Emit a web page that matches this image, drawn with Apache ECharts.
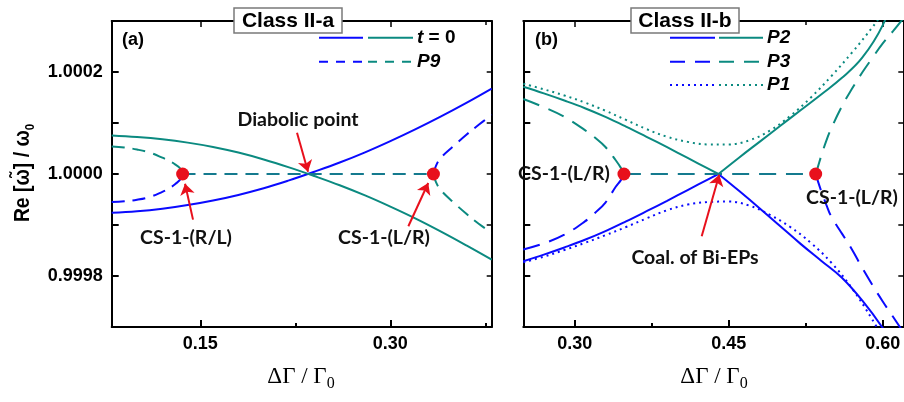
<!DOCTYPE html>
<html>
<head>
<meta charset="utf-8">
<script src="https://cdn.jsdelivr.net/npm/echarts@6/dist/echarts.min.js"></script>
<style>
html,body{margin:0;padding:0;background:#fff;}
#c{width:904px;height:402px;}
</style>
</head>
<body>
<div id="c"></div>
<script>
// ---------- Panel (a): Class II-a ----------
const aX      = [0.08,0.10,0.12,0.14,0.16,0.18,0.20,0.22,0.24,0.26,0.28,0.30,0.32,0.34,0.36,0.38];
const t0Blue  = [0.999924,0.999927,0.999932,0.999939,0.999948,0.999959,0.999972,0.9999875,1.0000045,1.0000225,1.0000425,1.0000645,1.000088,1.000113,1.0001395,1.0001675];
const t0Teal  = [1.0000755,1.0000725,1.000068,1.0000615,1.000053,1.000042,1.0000285,1.000013,0.999996,0.999978,0.999958,0.999936,0.9999125,0.999887,0.99986,0.999832];
const p9XL    = [0.08,0.09,0.10,0.11,0.12,0.125,0.13,0.134,0.136];
const p9BlueL = [0.999945,0.9999465,0.9999495,0.999955,0.999965,0.999971,0.999980,0.999989,1.0];
const p9TealL = [1.000054,1.000052,1.000048,1.000042,1.000032,1.000026,1.000019,1.000011,1.0];
const p9XR    = [0.334,0.336,0.34,0.35,0.36,0.37,0.38];
const p9BlueR = [1.0,1.000016,1.000032,1.000055,1.000077,1.000097,1.000116];
const p9TealR = [1.0,0.999984,0.999968,0.999944,0.999922,0.999902,0.999885];
const p9FlatX = [0.136,0.334];
const csAX    = [0.136,0.334];

// ---------- Panel (b): Class II-b ----------
const bXL     = [0.25,0.27,0.29,0.31,0.33,0.35,0.37,0.39,0.41,0.43,0.44];
const p2TealL = [1.000171,1.000158,1.000144,1.000129,1.000112,1.000093,1.000073,1.0000525,1.0000315,1.0000105,1.0];
const p2BlueL = [0.999829,0.999842,0.999856,0.999871,0.999888,0.999907,0.999927,0.9999475,0.9999685,0.9999895,1.0];
const bXR     = [0.44,0.46,0.48,0.50,0.52,0.54,0.56,0.58,0.60,0.62];
const p2TealR = [1.0,1.000032,1.000063,1.000094,1.000125,1.000156,1.000188,1.000228,1.000292,1.000395];
const p2BlueR = [1.0,0.999967,0.999933,0.999898,0.999863,0.99983,0.999797,0.999752,0.999698,0.999635];
const p1X     = [0.25,0.27,0.29,0.31,0.33,0.35,0.37,0.39,0.41,0.43,0.45,0.47,0.49,0.51,0.53,0.55,0.57,0.59,0.61];
const p1Teal  = [1.000177,1.000166,1.000154,1.00014,1.000124,1.000106,1.000088,1.000073,1.000063,1.000058,1.000058,1.000066,1.000085,1.000114,1.00015,1.000192,1.000238,1.000288,1.000344];
const p1Blue  = [0.999827,0.999838,0.999851,0.999865,0.99988,0.999896,0.999913,0.999929,0.99994,0.999945,0.999946,0.999938,0.99992,0.999896,0.999865,0.999826,0.999776,0.999714,0.999645];
const p3XL    = [0.25,0.27,0.29,0.31,0.32,0.33,0.34,0.345,0.348];
const p3TealL = [1.000147,1.000131,1.000112,1.000086,1.000071,1.000053,1.000027,1.000012,1.0];
const p3BlueL = [0.999852,0.999864,0.999881,0.999907,0.999924,0.999944,0.999975,0.999988,1.0];
const p3XR    = [0.5347,0.537,0.54,0.545,0.55,0.56,0.57,0.58,0.59,0.60,0.61,0.62];
const p3TealR = [1.0,1.000015,1.000035,1.000065,1.00009,1.000132,1.000167,1.000199,1.000228,1.000256,1.00028,1.000305];
const p3BlueR = [1.0,0.999985,0.999967,0.99994,0.999916,0.999884,0.999852,0.999816,0.999782,0.99975,0.99972,0.99969];
const p3FlatX = [0.348,0.5347];
const csBX    = [0.348,0.5347];

// ---------- Ticks ----------
const xMajA = [0.15,0.30], xMinA = [0.225,0.375];
const xMajB = [0.30,0.45,0.60], xMinB = [0.375,0.525];
const yTicks = [0.9998,0.9999,1.0000,1.0001,1.0002];
const yLabels = [0.9998,1.0000,1.0002];

// ---------- Annotation arrows (tail, head) in data units ----------
const arrowsA = [
  [[0.2263,1.0000808],[0.2350,1.0000045]],
  [[0.1442,0.9999106],[0.1379,0.9999810]],
  [[0.3142,0.9998975],[0.3299,0.9999824]]
];
const arrowsB = [
  [[0.4237,0.9998779],[0.4408,0.9999986]]
];

const BLUE = '#0a0aff', TEAL = '#0b8a80', MIX = '#147a8e', RED = '#e8101c';
const zip = (xs, ys) => xs.map((x,i)=>[x, ys[i]]);
const flat = xs => xs.map(x=>[x,1.0]);
const TICKFONT = {fontSize:18, fontWeight:'bold', color:'#000', fontFamily:'"Liberation Sans", Arial, sans-serif'};

function xAxesFor(g, min, max, maj, mn){
  const base = {type:'value', gridIndex:g, min, max, splitLine:{show:false}};
  return [
    Object.assign({}, base, {position:'bottom',
      axisLine:{show:true,onZero:false,lineStyle:{color:'#000',width:2}},
      axisTick:{show:true,inside:true,length:7,customValues:maj,lineStyle:{color:'#000',width:2}},
      axisLabel:Object.assign({show:true,margin:8,customValues:maj,formatter:v=>v.toFixed(2)},TICKFONT)}),
    Object.assign({}, base, {position:'bottom',
      axisLine:{show:false,onZero:false},
      axisTick:{show:true,inside:true,length:4,customValues:mn,lineStyle:{color:'#000',width:2}},
      axisLabel:{show:false}}),
    Object.assign({}, base, {position:'top',
      axisLine:{show:true,onZero:false,lineStyle:{color:'#000',width:2}},
      axisTick:{show:true,inside:true,length:6,customValues:maj,lineStyle:{color:'#000',width:1.5}},
      axisLabel:{show:false}}),
    Object.assign({}, base, {position:'top',
      axisLine:{show:false,onZero:false},
      axisTick:{show:true,inside:true,length:4,customValues:mn,lineStyle:{color:'#000',width:1.5}},
      axisLabel:{show:false}})
  ];
}
function yAxesFor(g){
  const base = {type:'value', gridIndex:g, min:0.9997, max:1.0003, splitLine:{show:false}, scale:true};
  return [
    Object.assign({}, base, {position:'left',
      axisLine:{show:true,onZero:false,lineStyle:{color:'#000',width:2}},
      axisTick:{show:true,inside:true,length:7,customValues:yTicks,lineStyle:{color:'#000',width:2}},
      axisLabel:Object.assign({show:g===0,margin:9,customValues:yLabels,formatter:v=>v.toFixed(4)},TICKFONT)}),
    Object.assign({}, base, {position:'right',
      axisLine:{show:true,onZero:false,lineStyle:{color:'#000',width:2}},
      axisTick:{show:true,inside:true,length:5,customValues:yTicks,lineStyle:{color:'#000',width:1.5}},
      axisLabel:{show:false}})
  ];
}
const xAxis = xAxesFor(0,0.08,0.38,xMajA,xMinA).concat(xAxesFor(1,0.25,0.62,xMajB,xMinB));
const yAxis = yAxesFor(0).concat(yAxesFor(1));

function ln(xi, yi, data, color, type, z){
  return {type:'line', xAxisIndex:xi, yAxisIndex:yi, data, showSymbol:false, smooth:0.4,
    lineStyle:{color, width:2, type}, z:z||2, silent:true, animation:false};
}
const DASH_A = [13,8], DASH_B = [17,10], DOT = [2,4];
const LDASH_A = [9,8], LDASH_B = [15,10];
const series = [
  // panel a
  ln(0,0,zip(aX,t0Blue),BLUE,'solid'),
  ln(0,0,zip(aX,t0Teal),TEAL,'solid'),
  ln(0,0,zip(p9XL,p9BlueL),BLUE,DASH_A),
  ln(0,0,zip(p9XL,p9TealL),TEAL,DASH_A),
  ln(0,0,zip(p9XR,p9BlueR),BLUE,DASH_A),
  ln(0,0,zip(p9XR,p9TealR),TEAL,DASH_A),
  ln(0,0,flat(p9FlatX),MIX,DASH_A,3),
  // panel b
  ln(4,2,zip(bXL,p2TealL),TEAL,'solid'),
  ln(4,2,zip(bXL,p2BlueL),BLUE,'solid'),
  ln(4,2,zip(bXR,p2TealR),TEAL,'solid'),
  ln(4,2,zip(bXR,p2BlueR),BLUE,'solid'),
  ln(4,2,zip(p1X,p1Teal),TEAL,DOT),
  ln(4,2,zip(p1X,p1Blue),BLUE,DOT),
  ln(4,2,zip(p3XL,p3TealL),TEAL,DASH_B),
  ln(4,2,zip(p3XL,p3BlueL),BLUE,DASH_B),
  ln(4,2,zip(p3XR,p3TealR),TEAL,DASH_B),
  ln(4,2,zip(p3XR,p3BlueR),BLUE,DASH_B),
  ln(4,2,flat(p3FlatX),MIX,DASH_B,3),
  // arrows
  {type:'lines', coordinateSystem:'cartesian2d', xAxisIndex:0, yAxisIndex:0, z:5, silent:true, animation:false,
   symbol:['none','arrow'], symbolSize:11, lineStyle:{color:RED,width:2,opacity:1,curveness:0},
   data:arrowsA.map(c=>({coords:c}))},
  {type:'lines', coordinateSystem:'cartesian2d', xAxisIndex:4, yAxisIndex:2, z:5, silent:true, animation:false,
   symbol:['none','arrow'], symbolSize:11, lineStyle:{color:RED,width:2,opacity:1,curveness:0},
   data:arrowsB.map(c=>({coords:c}))},
  // CS points
  {type:'scatter', xAxisIndex:0, yAxisIndex:0, data:flat(csAX), symbolSize:13, itemStyle:{color:RED,opacity:1}, z:6, silent:true, animation:false},
  {type:'scatter', xAxisIndex:4, yAxisIndex:2, data:flat(csBX), symbolSize:13, itemStyle:{color:RED,opacity:1}, z:6, silent:true, animation:false}
];

const ANNO = 'bold 19.5px Lato, "Open Sans", sans-serif';
const LEG = '"Liberation Sans", Arial, sans-serif';
function annot(text, x, y){
  return {type:'text', x, y, z:50, style:{text, font:ANNO, fill:'#111', align:'center', verticalAlign:'middle'}};
}
function legLine(x1,x2,y,color,dash){
  return {type:'line', z:50, shape:{x1,y1:y,x2,y2:y}, style:{stroke:color,lineWidth:2,lineDash:dash}};
}
function legText(x,y,text,rich){
  return {type:'text', x, y, z:50, style:{text, rich, align:'left', verticalAlign:'middle'}};
}
const richLeg = {
  i:{fontFamily:LEG,fontSize:19,fontWeight:'bold',fontStyle:'italic',fill:'#000'},
  n:{fontFamily:LEG,fontSize:19,fontWeight:'bold',fill:'#000'}
};
function titleBox(cx, text){
  return {type:'group', z:60, children:[
    {type:'rect', z:60, shape:{x:cx-54,y:8,width:108,height:25}, style:{fill:'#fff',stroke:'#7a7a7a',lineWidth:1.5}},
    {type:'text', z:61, x:cx, y:21, style:{text, font:'bold 21px "Liberation Sans", Arial, sans-serif', fill:'#000', align:'center', verticalAlign:'middle'}}
  ]};
}
const SERIF = '"Liberation Serif","Times New Roman",serif';
const richX = {
  m:{fontFamily:SERIF,fontSize:23,fill:'#000',lineHeight:30,verticalAlign:'middle'},
  s:{fontFamily:SERIF,fontSize:16,fill:'#000',lineHeight:7,verticalAlign:'bottom'}
};
const richY = {
  m:{fontFamily:'"Liberation Sans",Arial,sans-serif',fontWeight:'bold',fontSize:22,fill:'#000',lineHeight:28,verticalAlign:'middle'},
  s:{fontFamily:'"Liberation Sans",Arial,sans-serif',fontWeight:'bold',fontSize:13,fill:'#000',lineHeight:6,verticalAlign:'bottom'}
};

const graphic = [
  titleBox(288,'Class II-a'),
  titleBox(685,'Class II-b'),
  {type:'text', x:122, y:40, z:50, style:{text:'(a)', font:'bold 18px "Liberation Sans", Arial, sans-serif', fill:'#000', verticalAlign:'middle'}},
  {type:'text', x:535, y:40, z:50, style:{text:'(b)', font:'bold 18px "Liberation Sans", Arial, sans-serif', fill:'#000', verticalAlign:'middle'}},
  // legend a
  legLine(319,363,37.7,BLUE,null), legLine(368,413,37.7,TEAL,null),
  legLine(319,363,61.7,BLUE,LDASH_A), legLine(368,413,61.7,TEAL,LDASH_A),
  legText(417,38,'{i|t}{n| = 0}',richLeg),
  legText(417,62,'{i|P9}',richLeg),
  // legend b
  legLine(670,715,37.7,BLUE,null), legLine(719,763,37.7,TEAL,null),
  legLine(670,715,61.7,BLUE,LDASH_B), legLine(719,763,61.7,TEAL,LDASH_B),
  legLine(670,715,85,BLUE,DOT), legLine(719,763,85,TEAL,DOT),
  legText(767,38,'{i|P2}',richLeg),
  legText(767,62,'{i|P3}',richLeg),
  legText(767,85,'{i|P1}',richLeg),
  // annotations
  annot('Diabolic point',298,120),
  annot('CS-1-(R/L)',186,238),
  annot('CS-1-(L/R)',384,238),
  annot('CS-1-(L/R)',564,174),
  annot('CS-1-(L/R)',852,198),
  annot('Coal. of Bi-EPs',695,258),
  // axis titles
  {type:'text', x:301, y:377, z:50, style:{text:'{m|ΔΓ / Γ}{s|0}', rich:richX, align:'center', verticalAlign:'middle'}},
  {type:'text', x:714, y:377, z:50, style:{text:'{m|ΔΓ / Γ}{s|0}', rich:richX, align:'center', verticalAlign:'middle'}},
  {type:'text', x:23, y:173, z:50, rotation:Math.PI/2, scaleX:0.88, style:{text:'{m|Re [ω\u0303] / ω}{s|0}', rich:richY, align:'center', verticalAlign:'middle'}}
];

const chart = echarts.init(document.getElementById('c'), null, {renderer:'canvas'});
chart.setOption({
  animation:false,
  backgroundColor:'#fff',
  grid:[
    {left:111.7, top:21, width:380, height:306},
    {left:523.3, top:21, width:380, height:306}
  ],
  xAxis, yAxis, series, graphic
});
</script>
</body>
</html>
